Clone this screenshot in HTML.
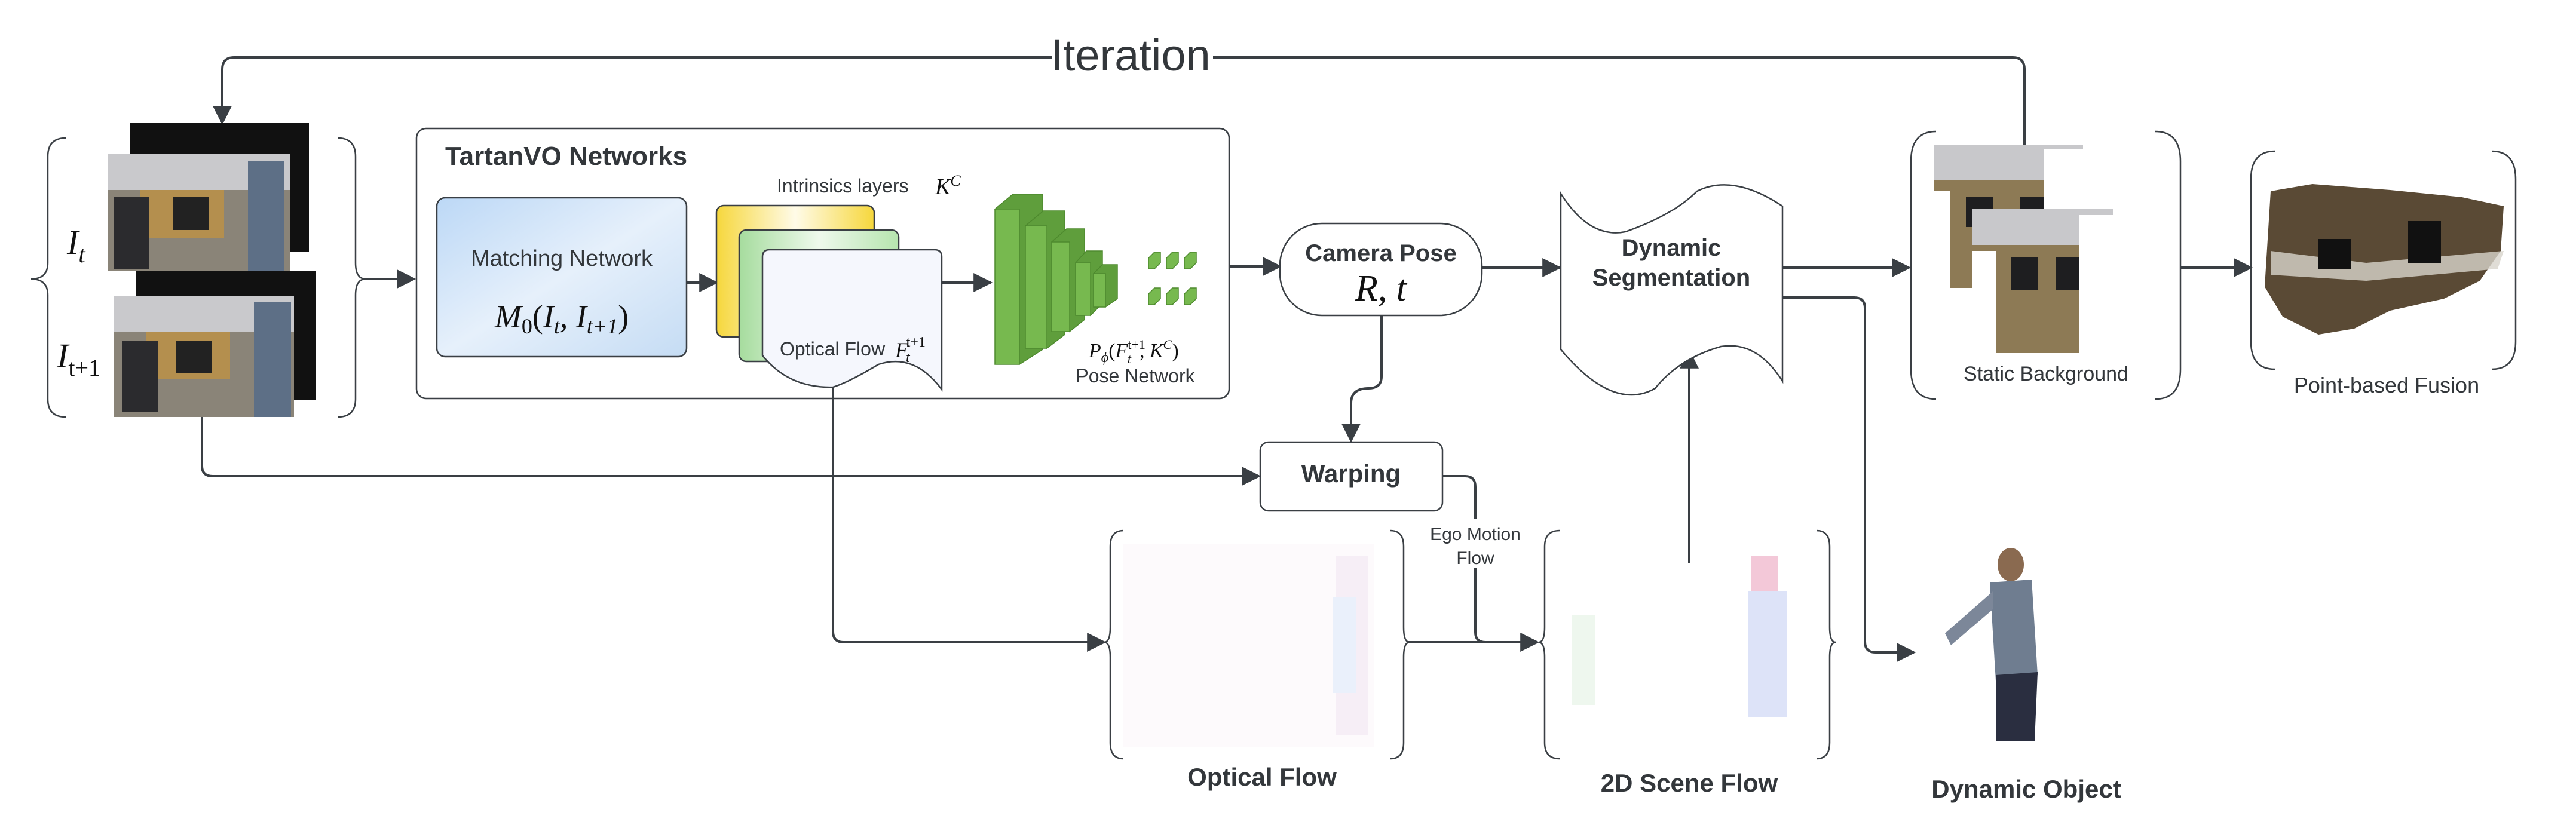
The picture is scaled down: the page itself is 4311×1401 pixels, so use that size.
<!DOCTYPE html>
<html><head><meta charset="utf-8"><style>
html,body{margin:0;padding:0;background:#fff;}
svg{display:block;}
text{font-family:"Liberation Sans",sans-serif;fill:#33373b;}
.m{font-family:"Liberation Serif",serif;font-style:italic;fill:#111;}
</style></head><body>
<svg width="4311" height="1401" viewBox="0 0 4311 1401" xmlns="http://www.w3.org/2000/svg">
<defs>
<marker id="b" viewBox="0 0 10 10" refX="9" refY="5" markerWidth="8" markerHeight="8" orient="auto"><path d="M0,0 L10,5 L0,10 z" fill="#3a3f44"/></marker>
<linearGradient id="blue" x1="0" y1="0" x2="1" y2="1"><stop offset="0" stop-color="#bcd8f6"/><stop offset="0.5" stop-color="#e6f0fb"/><stop offset="1" stop-color="#c5dcf4"/></linearGradient>
<linearGradient id="yel" x1="0" y1="0" x2="1" y2="0"><stop offset="0" stop-color="#f6d73c"/><stop offset="0.5" stop-color="#fffbe8"/><stop offset="1" stop-color="#f6d73c"/></linearGradient>
<linearGradient id="grn" x1="0" y1="0" x2="1" y2="0"><stop offset="0" stop-color="#a6dc9e"/><stop offset="0.5" stop-color="#eef9ec"/><stop offset="1" stop-color="#b6e4ae"/></linearGradient>
</defs>
<g stroke="#3a3f44" stroke-width="4" fill="none">
<path d="M3388,242 L3388,116 Q3388,96 3368,96 L2030,96 M1760,96 L392,96 Q372,96 372,116 L372,206" marker-end="url(#b)"/>
<path d="M110,231 Q80,231 80,262 L80,440 Q80,467 52,467 Q80,467 80,494 L80,668 Q80,698 110,698" stroke-width="2.5"/>
<path d="M565,231 Q595,231 595,262 L595,440 Q595,467 612,467 Q595,467 595,494 L595,668 Q595,698 565,698" stroke-width="2.5"/>
<path d="M612,467 L693,467" marker-end="url(#b)"/>
<rect x="697" y="215" width="1360" height="452" rx="16" stroke-width="2.5"/>
<path d="M1149,473 L1199,473" marker-end="url(#b)"/>
<path d="M1576,473 L1658,473" marker-end="url(#b)"/>
<path d="M2057,446 L2142,446" marker-end="url(#b)"/>
<path d="M2480,448 L2610,448" marker-end="url(#b)"/>
<path d="M2983,448 L3195,448" marker-end="url(#b)"/>
<path d="M3649,448 L3767,448" marker-end="url(#b)"/>
<path d="M2312,528 L2312,630 Q2312,650 2290,650 Q2261,650 2261,675 L2261,738" marker-end="url(#b)"/>
<path d="M338,698 L338,780 Q338,797 356,797 L2107,797" marker-end="url(#b)"/>
<path d="M1394,648 L1394,1057 Q1394,1075 1412,1075 L1848,1075" marker-end="url(#b)"/>
<path d="M2414,797 L2452,797 Q2469,797 2469,815 L2469,868 M2469,950 L2469,1058 Q2469,1075 2486,1075 L2573,1075" marker-end="url(#b)"/>
<path d="M2357,1075 L2520,1075"/>
<path d="M2827,943 L2827,588" marker-end="url(#b)"/>
<path d="M2983,498 L3103,498 Q3121,498 3121,516 L3121,1074 Q3121,1092 3139,1092 L3203,1092" marker-end="url(#b)"/>
<rect x="2109" y="740" width="305" height="115" rx="14" stroke-width="2.5" fill="#fff"/>
<rect x="2142" y="374" width="338" height="154" rx="70" stroke-width="2.5" fill="#fff"/>
<path d="M2612,324 Q2660,400 2720,388 Q2800,360 2840,320 Q2900,290 2983,345 L2983,638 Q2940,570 2880,580 Q2810,600 2770,650 Q2700,690 2612,585 Z" stroke-width="2.5" fill="#fff"/>
<path d="M3240,220 Q3198,220 3198,270 L3198,618 Q3198,668 3240,668 M3607,220 Q3649,220 3649,270 L3649,618 Q3649,668 3607,668" stroke-width="2.5"/>
<path d="M3807,253 Q3767,253 3767,300 L3767,572 Q3767,618 3807,618 M4170,253 Q4210,253 4210,300 L4210,572 Q4210,618 4170,618" stroke-width="2.5"/>
<path d="M1880,888 Q1858,888 1858,915 L1858,1050 Q1858,1075 1848,1075 Q1858,1075 1858,1100 L1858,1243 Q1858,1270 1880,1270 M2327,888 Q2349,888 2349,915 L2349,1050 Q2349,1075 2359,1075 Q2349,1075 2349,1100 L2349,1243 Q2349,1270 2327,1270" stroke-width="2.5"/>
<path d="M2610,888 Q2585,888 2585,915 L2585,1050 Q2585,1075 2575,1075 Q2585,1075 2585,1100 L2585,1243 Q2585,1270 2610,1270 M3040,888 Q3062,888 3062,915 L3062,1050 Q3062,1075 3072,1075 Q3062,1075 3062,1100 L3062,1243 Q3062,1270 3040,1270" stroke-width="2.5"/>
</g>
<text x="1892" y="118" font-size="74" text-anchor="middle">Iteration</text>
<g>
<rect x="217" y="206" width="300" height="215" fill="#111"/>
<rect x="180" y="258" width="305" height="196" fill="#8a8478"/>
<rect x="180" y="258" width="305" height="60" fill="#c9c9cc"/>
<rect x="235" y="318" width="140" height="80" fill="#b48f4e"/>
<rect x="290" y="330" width="60" height="55" fill="#222"/>
<rect x="190" y="330" width="60" height="120" fill="#2b2b2e"/>
<rect x="415" y="270" width="60" height="184" fill="#5d6f86"/>
<rect x="228" y="454" width="300" height="215" fill="#111"/>
<rect x="190" y="495" width="302" height="203" fill="#8a8478"/>
<rect x="190" y="495" width="302" height="60" fill="#c9c9cc"/>
<rect x="245" y="555" width="140" height="80" fill="#b48f4e"/>
<rect x="295" y="570" width="60" height="55" fill="#222"/>
<rect x="205" y="570" width="60" height="120" fill="#2b2b2e"/>
<rect x="425" y="505" width="62" height="193" fill="#5d6f86"/>
</g>
<text x="112" y="425" class="m" font-size="58">I<tspan font-size="40" dy="14">t</tspan></text>
<text x="95" y="615" class="m" font-size="58">I<tspan font-size="40" dy="14" style="font-style:normal">t+1</tspan></text>
<text x="745" y="276" font-size="44" font-weight="bold">TartanVO Networks</text>
<rect x="731" y="331" width="418" height="266" rx="14" fill="url(#blue)" stroke="#3a3f44" stroke-width="2.5"/>
<text x="940" y="445" font-size="38" text-anchor="middle">Matching Network</text>
<text x="940" y="548" class="m" font-size="54" text-anchor="middle">M<tspan font-size="36" dy="10" style="font-style:normal">0</tspan><tspan dy="-10" style="font-style:normal">(</tspan>I<tspan font-size="36" dy="10">t</tspan><tspan dy="-10">, I</tspan><tspan font-size="36" dy="10">t+1</tspan><tspan dy="-10" style="font-style:normal">)</tspan></text>
<text x="1300" y="322" font-size="32">Intrinsics layers</text>
<text x="1565" y="325" class="m" font-size="38">K<tspan font-size="26" dy="-14">C</tspan></text>
<rect x="1199" y="344" width="264" height="220" rx="12" fill="url(#yel)" stroke="#3a3f44" stroke-width="2.5"/>
<rect x="1237" y="385" width="267" height="220" rx="12" fill="url(#grn)" stroke="#3a3f44" stroke-width="2.5"/>
<path d="M1288,418 L1564,418 Q1576,418 1576,430 L1576,652 Q1530,590 1470,610 Q1420,640 1394,648 Q1320,650 1276,595 L1276,430 Q1276,418 1288,418 Z" fill="#f5f7fd" stroke="#3a3f44" stroke-width="2.5"/>
<text x="1305" y="595" font-size="32">Optical Flow</text>
<text x="1498" y="598" class="m" font-size="36">F<tspan font-size="24" dx="-4" dy="8">t</tspan><tspan font-size="24" dx="-6" dy="-26" style="font-style:normal">t+1</tspan></text>
<g stroke="#4e8a2e" stroke-width="1.5">
<path d="M1665,350 L1695,325 L1745,325 L1745,585 L1706,610 Z" fill="#5f9e3c"/><rect x="1665" y="350" width="41" height="260" fill="#77b94f"/>
<path d="M1716,378 L1746,353 L1782,353 L1782,560 L1752,583 Z" fill="#5f9e3c"/><rect x="1716" y="378" width="36" height="205" fill="#77b94f"/>
<path d="M1760,405 L1785,383 L1815,383 L1815,535 L1790,555 Z" fill="#5f9e3c"/><rect x="1760" y="405" width="30" height="150" fill="#77b94f"/>
<path d="M1800,440 L1818,420 L1845,420 L1845,508 L1825,528 Z" fill="#5f9e3c"/><rect x="1800" y="440" width="25" height="88" fill="#77b94f"/>
<path d="M1830,458 L1845,443 L1870,443 L1870,500 L1850,514 Z" fill="#5f9e3c"/><rect x="1830" y="458" width="20" height="56" fill="#77b94f"/>
<g fill="#77b94f">
<path d="M1922,432 l10,-10 h10 v18 l-10,10 h-10z"/><path d="M1952,432 l10,-10 h10 v18 l-10,10 h-10z"/><path d="M1982,432 l10,-10 h10 v18 l-10,10 h-10z"/>
<path d="M1922,492 l10,-10 h10 v18 l-10,10 h-10z"/><path d="M1952,492 l10,-10 h10 v18 l-10,10 h-10z"/><path d="M1982,492 l10,-10 h10 v18 l-10,10 h-10z"/>
</g></g>
<text x="1822" y="598" class="m" font-size="34">P<tspan font-size="24" dy="8">ϕ</tspan><tspan dy="-8" style="font-style:normal">(</tspan>F<tspan font-size="22" dy="-14" style="font-style:normal">t+1</tspan><tspan font-size="22" dx="-30" dy="24">t</tspan><tspan dx="14" dy="-10" style="font-style:normal">, </tspan>K<tspan font-size="22" dy="-14">C</tspan><tspan dy="14" style="font-style:normal">)</tspan></text>
<text x="1900" y="640" font-size="32" text-anchor="middle">Pose Network</text>
<text x="2311" y="437" font-size="40" font-weight="bold" text-anchor="middle">Camera Pose</text>
<text x="2311" y="503" class="m" font-size="62" text-anchor="middle">R, t</text>
<text x="2797" y="428" font-size="40" font-weight="bold" text-anchor="middle">Dynamic</text>
<text x="2797" y="478" font-size="40" font-weight="bold" text-anchor="middle">Segmentation</text>
<text x="2261" y="807" font-size="42" font-weight="bold" text-anchor="middle">Warping</text>
<text x="2469" y="904" font-size="30" text-anchor="middle">Ego Motion</text>
<text x="2469" y="944" font-size="30" text-anchor="middle">Flow</text>
<g>
<rect x="3236" y="242" width="250" height="240" fill="#8d7a55"/>
<rect x="3236" y="242" width="250" height="60" fill="#c8c8cb"/>
<rect x="3290" y="330" width="45" height="50" fill="#1e1e20"/>
<rect x="3380" y="330" width="50" height="50" fill="#1e1e20"/>
<rect x="3236" y="320" width="28" height="162" fill="#fff"/>
<rect x="3420" y="250" width="66" height="232" fill="#fff"/>
<rect x="3300" y="350" width="236" height="241" fill="#8d7a55"/>
<rect x="3300" y="350" width="236" height="60" fill="#c8c8cb"/>
<rect x="3365" y="430" width="45" height="55" fill="#1e1e20"/>
<rect x="3440" y="430" width="50" height="55" fill="#1e1e20"/>
<rect x="3300" y="420" width="40" height="171" fill="#fff"/>
<rect x="3480" y="360" width="56" height="231" fill="#fff"/>
</g>
<text x="3424" y="637" font-size="34" text-anchor="middle">Static Background</text>
<path d="M3800,320 L3870,308 L4000,318 L4120,330 L4190,345 L4185,420 L4150,470 L4090,500 L4000,520 L3940,550 L3880,560 L3820,530 L3790,480 L3795,400 Z" fill="#5a4a35"/>
<path d="M3800,420 L3960,440 L4190,420 L4180,450 L3960,470 L3800,460 Z" fill="#d8d4cc" opacity="0.8"/>
<rect x="3880" y="400" width="55" height="50" fill="#111"/>
<rect x="4030" y="370" width="55" height="70" fill="#111"/>
<text x="3994" y="657" font-size="36" text-anchor="middle">Point-based Fusion</text>
<rect x="1880" y="910" width="420" height="340" fill="#fdfafc"/>
<rect x="2235" y="930" width="55" height="300" fill="#f6eef6"/>
<rect x="2230" y="1000" width="40" height="160" fill="#eaf0fb"/>
<rect x="2930" y="930" width="45" height="60" fill="#f3c8d8"/>
<rect x="2925" y="990" width="65" height="210" fill="#dde3f8"/>
<rect x="2630" y="1030" width="40" height="150" fill="#eef7ee"/>
<text x="2112" y="1315" font-size="42" font-weight="bold" text-anchor="middle">Optical Flow</text>
<text x="2827" y="1325" font-size="42" font-weight="bold" text-anchor="middle">2D Scene Flow</text>
<g>
<ellipse cx="3365" cy="945" rx="22" ry="28" fill="#8a6a50"/>
<path d="M3330,975 L3400,970 L3410,1130 L3340,1140 Z" fill="#6f7d90"/>
<path d="M3335,990 L3255,1060 L3265,1080 L3335,1020 Z" fill="#7c8799"/>
<path d="M3340,1130 L3410,1125 L3405,1240 L3340,1240 Z" fill="#2a2e40"/>
</g>
<text x="3391" y="1335" font-size="42" font-weight="bold" text-anchor="middle">Dynamic Object</text>
</svg>
</body></html>
